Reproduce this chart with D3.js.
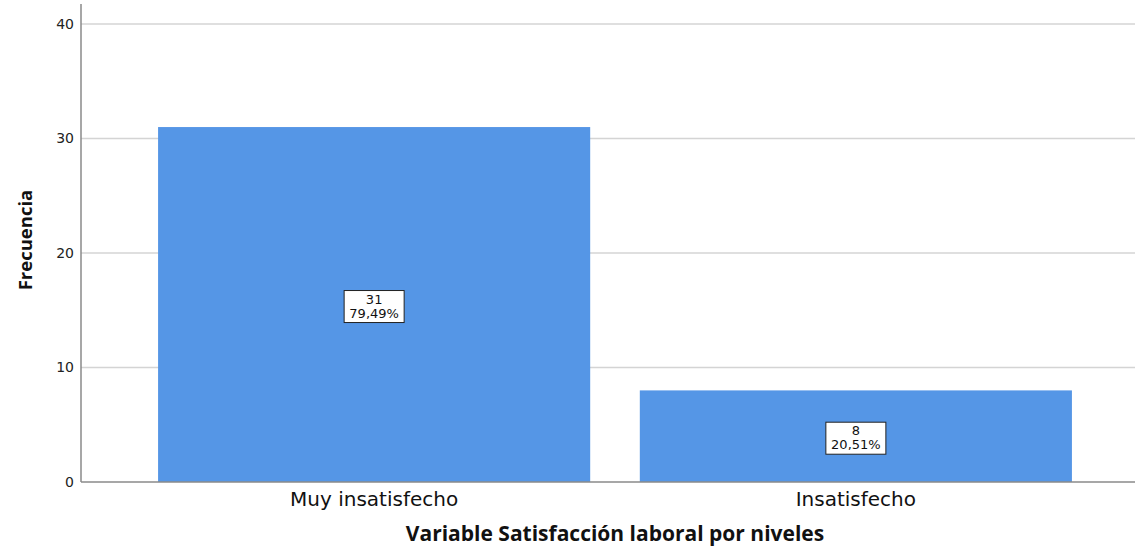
<!DOCTYPE html>
<html><head><meta charset="utf-8">
<script src="https://cdn.jsdelivr.net/npm/d3@7"></script>
<style>body{margin:0;background:#fff}svg{display:block}</style>
</head><body>
<svg id="c" width="1135" height="546"></svg>
<script>
const categories = ["Muy insatisfecho", "Insatisfecho"];
const counts = [31, 8];
const percents = ["79,49%", "20,51%"];
const yTicks = [0, 10, 20, 30, 40];

const svg = d3.select("#c");
const x0 = 81, x1 = 1149, yBottom = 482, yTop = 24;
const x = d3.scaleBand().domain(categories).range([x0, x1]).paddingInner(0.103).paddingOuter(0.16);
const y = d3.scaleLinear().domain([0, 40]).range([yBottom, yTop]);

// gridlines
svg.append("g").selectAll("line").data(yTicks.filter(d => d > 0)).join("line")
  .attr("x1", x0).attr("x2", 1135).attr("y1", d => y(d)).attr("y2", d => y(d))
  .attr("stroke", "#d4d4d4").attr("stroke-width", 1.5);

// bars
svg.append("g").selectAll("rect").data(categories).join("rect")
  .attr("x", d => x(d)).attr("width", x.bandwidth())
  .attr("y", (d, i) => y(counts[i])).attr("height", (d, i) => y(0) - y(counts[i]))
  .attr("fill", "#5596E6");

// y axis
const yAxis = d3.axisLeft(y).tickValues(yTicks).tickSize(0).tickPadding(7);
const gy = svg.append("g").attr("transform", `translate(${x0},0)`).call(yAxis);
gy.select(".domain").attr("stroke", "#8a8a8a").attr("stroke-width", 1.5).attr("d", `M0,4V${yBottom}`);
gy.selectAll("text").attr("font-family", "DejaVu Sans").attr("font-size", 14).attr("fill", "#222");

// x axis
const xAxis = d3.axisBottom(x).tickSize(0).tickPadding(10);
const gx = svg.append("g").attr("transform", `translate(0,${yBottom})`).call(xAxis);
gx.select(".domain").attr("stroke", "#8a8a8a").attr("stroke-width", 1.5).attr("d", `M${x0},0H1135`);
gx.selectAll("text").attr("font-family", "DejaVu Sans").attr("font-size", 20).attr("fill", "#111");

// labels
const lab = svg.append("g").selectAll("g").data(categories).join("g")
  .attr("transform", (d, i) => `translate(${x(d) + x.bandwidth() / 2},${(y(0) + y(counts[i])) / 2 + 1})`);
lab.append("rect").attr("x", -30).attr("y", -15).attr("width", 60).attr("height", 32)
  .attr("fill", "#fff").attr("stroke", "#222").attr("stroke-width", 1);
lab.append("text").attr("text-anchor", "middle").attr("y", -2)
  .attr("font-family", "DejaVu Sans").attr("font-size", 13).attr("fill", "#111")
  .text((d, i) => counts[i]);
lab.append("text").attr("text-anchor", "middle").attr("y", 12)
  .attr("font-family", "DejaVu Sans").attr("font-size", 13).attr("fill", "#111")
  .text((d, i) => percents[i]);

// axis titles
svg.append("text").attr("transform", `translate(32,240) rotate(-90)`).attr("text-anchor", "middle")
  .attr("font-family", "Open Sans").attr("font-weight", "bold").attr("font-size", 18.5).attr("fill", "#111")
  .text("Frecuencia");
svg.append("text").attr("x", (x0 + x1) / 2).attr("y", 541).attr("text-anchor", "middle")
  .attr("font-family", "Open Sans").attr("font-weight", "bold").attr("font-size", 21).attr("fill", "#111")
  .text("Variable Satisfacción laboral por niveles");
</script>
</body></html>
